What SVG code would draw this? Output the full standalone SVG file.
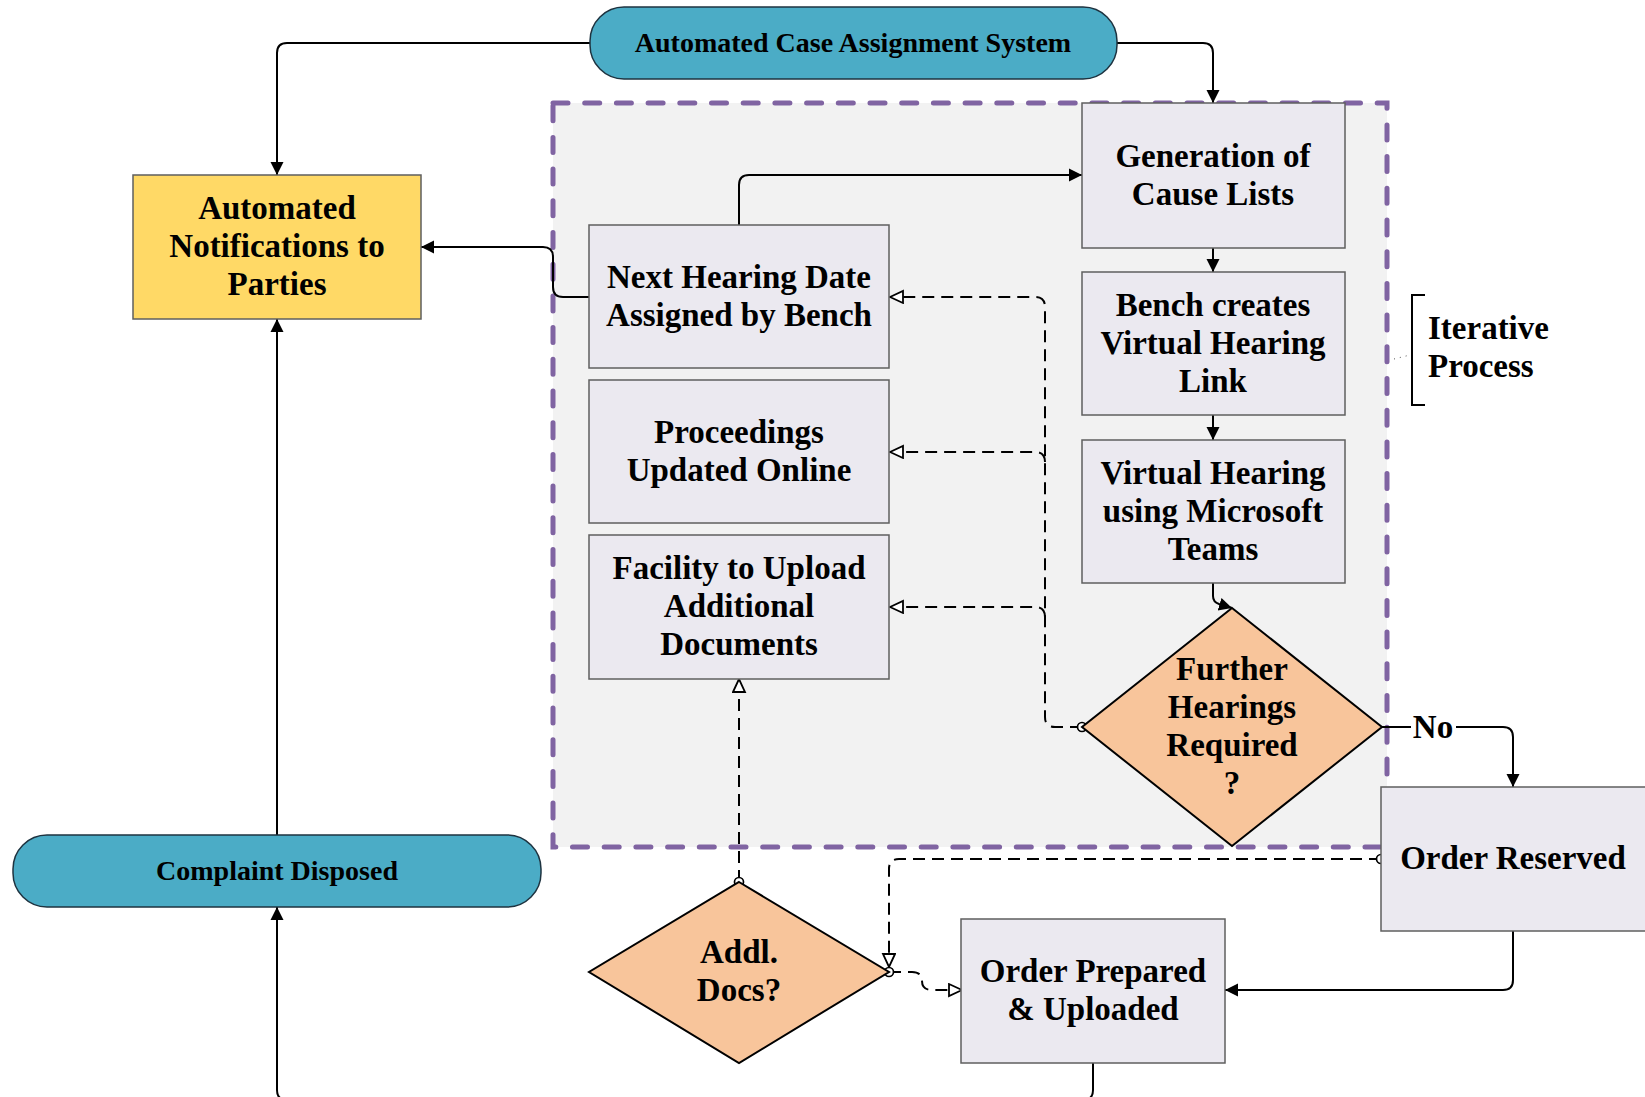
<svg xmlns="http://www.w3.org/2000/svg" width="1645" height="1097" viewBox="0 0 1645 1097">
<style>
.t{font-family:"Liberation Serif","Times New Roman",serif;font-weight:bold;font-size:33px;fill:#000;text-anchor:middle}
.ts{font-size:28px}
.box{fill:#EBE9F0;stroke:#5F5F5F;stroke-width:1.5}
.pill{fill:#4BACC6;stroke:#1E3340;stroke-width:1.5}
.dia{fill:#F8C59B;stroke:#000;stroke-width:2}
.c{fill:none;stroke:#000;stroke-width:2}
.d{fill:none;stroke:#000;stroke-width:2;stroke-dasharray:12 7}
</style>
<defs>
<marker id="arr" markerWidth="16" markerHeight="16" refX="13" refY="7" orient="auto" markerUnits="userSpaceOnUse"><path d="M0,0.5 L13,7 L0,13.5 z" fill="#000"/></marker>
<marker id="oarr" markerWidth="16" markerHeight="16" refX="14" refY="7" orient="auto" markerUnits="userSpaceOnUse"><path d="M1,1 L14,7 L1,13 z" fill="#fff" stroke="#000" stroke-width="1.8"/></marker>
<marker id="dot" markerWidth="12" markerHeight="12" refX="6" refY="6" orient="auto" markerUnits="userSpaceOnUse"><circle cx="6" cy="6" r="4.5" fill="#fff" stroke="#000" stroke-width="1.7"/></marker>
</defs>
<rect width="1645" height="1097" fill="#fff"/>

<g id="iterative-region">
<rect x="553" y="103" width="834" height="744" fill="#F2F2F2" stroke="#8064A2" stroke-width="5" stroke-linecap="round" stroke-dasharray="15 16.7"/>
</g>

<g id="connectors">
<path class="c" d="M590,43 H287 Q277,43 277,53 V175" marker-end="url(#arr)"/>
<path class="c" d="M1117,43 H1203 Q1213,43 1213,53 V103" marker-end="url(#arr)"/>
<path class="c" d="M739,225 V185 Q739,175 749,175 H1082" marker-end="url(#arr)"/>
<path class="c" d="M589,297 H563 Q553,297 553,287 V257 Q553,247 543,247 H421" marker-end="url(#arr)"/>
<path class="c" d="M1213,248 V272" marker-end="url(#arr)"/>
<path class="c" d="M1213,415 V440" marker-end="url(#arr)"/>
<path class="c" d="M1213,583 V596 Q1213,602 1219,604 L1232,608" marker-end="url(#arr)"/>
<path class="c" d="M1382,727 H1503 Q1513,727 1513,737 V787" marker-end="url(#arr)"/>
<path class="c" d="M1513,931 V980 Q1513,990 1503,990 H1225" marker-end="url(#arr)"/>
<path class="c" d="M1093,1063 V1090 Q1093,1100 1083,1100 H287 Q277,1100 277,1090 V907" marker-end="url(#arr)"/>
<path class="c" d="M277,835 V319" marker-end="url(#arr)"/>
<path class="d" d="M1082,727 H1055 Q1045,727 1045,717 V307 Q1045,297 1035,297 H890" marker-start="url(#dot)" marker-end="url(#oarr)"/>
<path class="d" d="M1045,462 Q1045,452 1035,452 H890" marker-end="url(#oarr)"/>
<path class="d" d="M1045,617 Q1045,607 1035,607 H890" marker-end="url(#oarr)"/>
<path class="d" d="M739,882 V679" marker-start="url(#dot)" marker-end="url(#oarr)"/>
<path class="d" d="M1381,859 H899 Q889,859 889,869 V967" marker-start="url(#dot)" marker-end="url(#oarr)"/>
<path class="d" d="M889,972 H912 Q922,972 922,981 Q922,990 932,990 H962" marker-start="url(#dot)" marker-end="url(#oarr)"/>
<rect x="1411" y="712" width="45" height="30" fill="#fff"/>
<text class="t" x="1433" y="738">No</text>
</g>

<g id="node-case-assignment">
<rect class="pill" x="590" y="7" width="527" height="72" rx="34"/>
<text class="t ts" x="853" y="52">Automated Case Assignment System</text>
</g>
<g id="node-notifications">
<rect x="133" y="175" width="288" height="144" fill="#FFD966" stroke="#5F5F5F" stroke-width="1.5"/>
<text class="t" x="277" y="219">Automated</text>
<text class="t" x="277" y="257">Notifications to</text>
<text class="t" x="277" y="295">Parties</text>
</g>
<g id="node-cause-lists">
<rect class="box" x="1082" y="103" width="263" height="145"/>
<text class="t" x="1213" y="167">Generation of</text>
<text class="t" x="1213" y="205">Cause Lists</text>
</g>
<g id="node-bench-link">
<rect class="box" x="1082" y="272" width="263" height="143"/>
<text class="t" x="1213" y="316">Bench creates</text>
<text class="t" x="1213" y="354">Virtual Hearing</text>
<text class="t" x="1213" y="392">Link</text>
</g>
<g id="node-virtual-hearing">
<rect class="box" x="1082" y="440" width="263" height="143"/>
<text class="t" x="1213" y="484">Virtual Hearing</text>
<text class="t" x="1213" y="522">using Microsoft</text>
<text class="t" x="1213" y="560">Teams</text>
</g>
<g id="node-next-hearing">
<rect class="box" x="589" y="225" width="300" height="143"/>
<text class="t" x="739" y="288">Next Hearing Date</text>
<text class="t" x="739" y="326">Assigned by Bench</text>
</g>
<g id="node-proceedings">
<rect class="box" x="589" y="380" width="300" height="143"/>
<text class="t" x="739" y="443">Proceedings</text>
<text class="t" x="739" y="481">Updated Online</text>
</g>
<g id="node-facility">
<rect class="box" x="589" y="535" width="300" height="144"/>
<text class="t" x="739" y="579">Facility to Upload</text>
<text class="t" x="739" y="617">Additional</text>
<text class="t" x="739" y="655">Documents</text>
</g>
<g id="node-further-hearings">
<polygon class="dia" points="1232,608 1382,727 1232,846 1082,727"/>
<text class="t" x="1232" y="680">Further</text>
<text class="t" x="1232" y="718">Hearings</text>
<text class="t" x="1232" y="756">Required</text>
<text class="t" x="1232" y="794">?</text>
</g>
<g id="node-order-reserved">
<rect class="box" x="1381" y="787" width="266" height="144"/>
<text class="t" x="1513" y="869">Order Reserved</text>
</g>
<g id="node-order-prepared">
<rect class="box" x="961" y="919" width="264" height="144"/>
<text class="t" x="1093" y="982">Order Prepared</text>
<text class="t" x="1093" y="1020">&amp; Uploaded</text>
</g>
<g id="node-addl-docs">
<polygon class="dia" points="739,882 889,972 739,1063 589,972"/>
<text class="t" x="739" y="963">Addl.</text>
<text class="t" x="739" y="1001">Docs?</text>
</g>
<g id="node-complaint-disposed">
<rect class="pill" x="13" y="835" width="528" height="72" rx="34"/>
<text class="t" x="277" y="880" style="font-size:28px">Complaint Disposed</text>
</g>
<g id="annotation-iterative">
<path d="M1425,295 H1412 V405 H1425" fill="none" stroke="#000" stroke-width="2"/>
<path d="M1394,359 L1410,355" fill="none" stroke="#555" stroke-width="1" stroke-dasharray="1 5"/>
<text class="t" x="1428" y="339" style="text-anchor:start">Iterative</text>
<text class="t" x="1428" y="377" style="text-anchor:start">Process</text>
</g>
</svg>
